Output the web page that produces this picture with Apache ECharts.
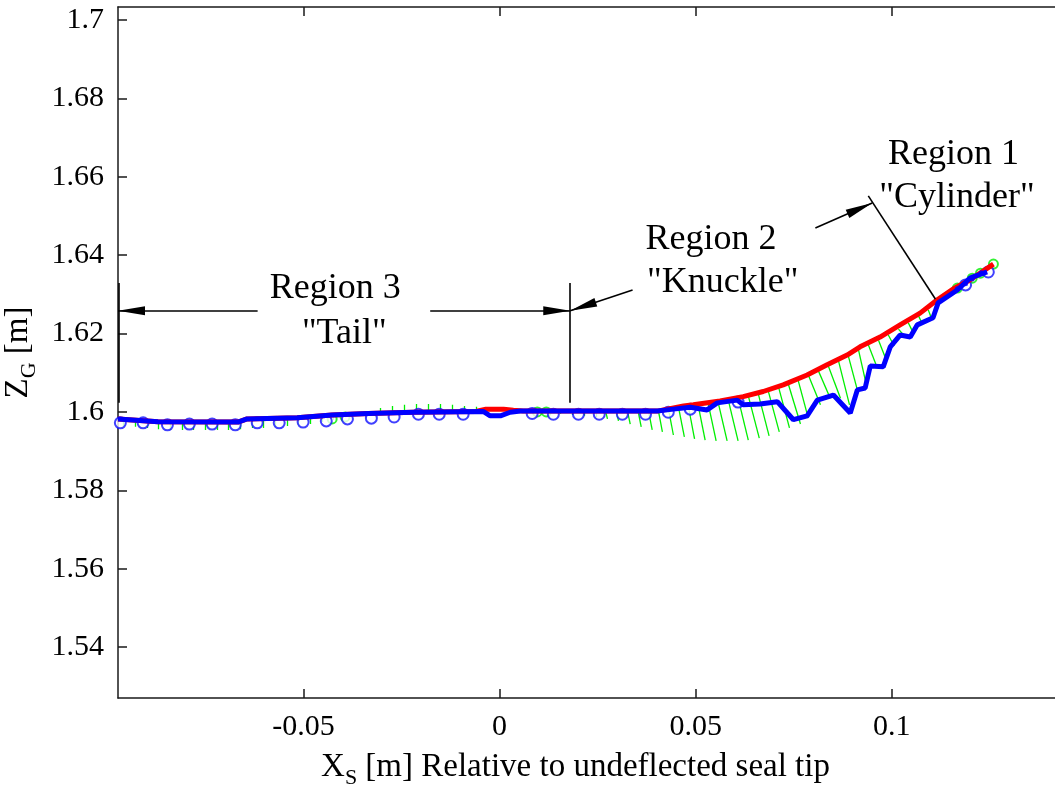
<!DOCTYPE html>
<html>
<head>
<meta charset="utf-8">
<script src="https://cdn.jsdelivr.net/npm/echarts@6.0.0/dist/echarts.min.js"></script>
<style>
  html, body { margin: 0; padding: 0; background: #fff; }
  #chart { width: 1055px; height: 786px; }
</style>
</head>
<body>
<div id="chart"></div>
<script>
// Axis ranges (m)
const X_MIN = -0.0973, X_MAX = 0.1416;
const Y_MIN = 1.5270, Y_MAX = 1.7033;

// Tick values and their labels
const xTickValues = [-0.05, 0, 0.05, 0.1];
const xTickLabels = ['-0.05', '0', '0.05', '0.1'];
const yTickValues = [1.54, 1.56, 1.58, 1.60, 1.62, 1.64, 1.66, 1.68, 1.70];
const yTickLabels = ['1.54', '1.56', '1.58', '1.6', '1.62', '1.64', '1.66', '1.68', '1.7'];

// Undeflected seal profile (red)
const redX = [-0.0973, -0.0871, -0.0667, -0.0644, -0.0516, -0.0427, -0.0335, -0.0220, -0.0060, -0.0035,
  0.0010, 0.0035, 0.0060, 0.0402, 0.0469, 0.0494, 0.0562, 0.0621, 0.0672, 0.0723, 0.0784, 0.0835,
  0.0886, 0.0919, 0.0970, 0.1021, 0.1072, 0.1116, 0.1157, 0.1200, 0.1259];
const redY = [1.5982, 1.5975, 1.5974, 1.5982, 1.5985, 1.5992, 1.5996, 1.5999, 1.6001, 1.6007,
  1.6007, 1.6004, 1.6002, 1.6002, 1.6015, 1.6018, 1.6028, 1.6039, 1.6052, 1.6069, 1.6094, 1.6120,
  1.6145, 1.6166, 1.6191, 1.6222, 1.6252, 1.6286, 1.6314, 1.6337, 1.6377];

// Deflected seal profile (blue)
const blueX = [-0.0973, -0.0871, -0.0667, -0.0644, -0.0516, -0.0427, -0.0335, -0.0220, -0.0042, -0.0024,
  0.0002, 0.0027, 0.0053, 0.0402, 0.0443, 0.0486, 0.0529, 0.0555, 0.0606, 0.0621, 0.0664, 0.0708,
  0.0749, 0.0784, 0.0810, 0.0851, 0.0894, 0.0912, 0.0932, 0.0945, 0.0978, 0.0996, 0.1021, 0.1047,
  0.1065, 0.1105, 0.1118, 0.1167, 0.1200, 0.1243];
const blueY = [1.5982, 1.5975, 1.5974, 1.5982, 1.5985, 1.5992, 1.5996, 1.5999, 1.6001, 1.5990,
  1.5990, 1.5999, 1.6002, 1.6002, 1.6007, 1.6012, 1.6005, 1.6023, 1.6030, 1.6018, 1.6020, 1.6026,
  1.5980, 1.5990, 1.6030, 1.6043, 1.5997, 1.6056, 1.6061, 1.6117, 1.6115, 1.6166, 1.6196, 1.6191,
  1.6222, 1.6240, 1.6278, 1.6311, 1.6342, 1.6357];

// Deflected node markers (open blue circles)
const blueNodeX = [-0.0967, -0.0909, -0.0847, -0.0791, -0.0733, -0.0674, -0.0618, -0.0562, -0.0501, -0.0442,
  -0.0388, -0.0327, -0.0269, -0.0207, -0.0154, -0.0093, 0.0083, 0.0137, 0.0201, 0.0254, 0.0313,
  0.0372, 0.0430, 0.0486, 0.0608, 0.1188, 0.1246];
const blueNodeY = [1.5972, 1.5972, 1.5967, 1.5969, 1.5969, 1.5967, 1.5972, 1.5972, 1.5974, 1.5977,
  1.5982, 1.5984, 1.5987, 1.5994, 1.5994, 1.5994, 1.5996, 1.5994, 1.5994, 1.5994, 1.5994,
  1.5994, 1.5999, 1.6007, 1.6025, 1.6324, 1.6357];

// Small filled blue points near the tip
const blueDotX = [0.1167, 0.1188, 0.1205, 0.1228];
const blueDotY = [1.6314, 1.6327, 1.6339, 1.6355];

// Open green circles
const greenNodeX = [-0.0427, -0.0394, 0.0096, 0.0119, 0.1167, 0.1205, 0.1226, 0.1259];
const greenNodeY = [1.5982, 1.5987, 1.6000, 1.6000, 1.6316, 1.6341, 1.6354, 1.6377];

// Green vectors: start (x0, y0) and end (x1, y1)
const gx0 = [
  -0.0960, -0.0929, -0.0898, -0.0870, -0.0840, -0.0809, -0.0781, -0.0751, -0.0720, -0.0692, -0.0661,
  -0.0631, -0.0603, -0.0572, -0.0541, -0.0513, -0.0483, -0.0452, -0.0424, -0.0394, -0.0363,
  -0.0304, -0.0274, -0.0243, -0.0212, -0.0182, -0.0151, -0.0121, -0.0090, -0.0059, -0.0029,
  0.0063, 0.0094, 0.0124, 0.0155, 0.0185, 0.0216, 0.0247,
  0.0270, 0.0298, 0.0326, 0.0353, 0.0379, 0.0404, 0.0430, 0.0456, 0.0481, 0.0506, 0.0532, 0.0557,
  0.0583, 0.0608, 0.0634, 0.0659, 0.0685, 0.0711, 0.0736, 0.0761,
  0.0787, 0.0813, 0.0838, 0.0864, 0.0889, 0.0915, 0.0940, 0.0966, 0.0991, 0.1017, 0.1042, 0.1068, 0.1093];
const gy0 = [
  1.5982, 1.5979, 1.5979, 1.5977, 1.5977, 1.5977, 1.5977, 1.5977, 1.5977, 1.5977, 1.5977,
  1.5982, 1.5982, 1.5982, 1.5984, 1.5984, 1.5987, 1.5990, 1.5992, 1.5995, 1.5997,
  1.5997, 1.5997, 1.5997, 1.5997, 1.5997, 1.5997, 1.5997, 1.5997, 1.6002, 1.6002,
  1.6002, 1.6002, 1.6002, 1.6002, 1.6002, 1.6002, 1.6002,
  1.6002, 1.6002, 1.6002, 1.6002, 1.6005, 1.6007, 1.6010, 1.6012, 1.6015, 1.6018, 1.6020, 1.6025,
  1.6030, 1.6035, 1.6041, 1.6048, 1.6053, 1.6064, 1.6071, 1.6081,
  1.6094, 1.6104, 1.6117, 1.6130, 1.6143, 1.6158, 1.6171, 1.6183, 1.6196, 1.6211, 1.6227, 1.6245, 1.6260];
const gx1 = [
  -0.0960, -0.0929, -0.0898, -0.0870, -0.0840, -0.0809, -0.0781, -0.0751, -0.0720, -0.0692, -0.0661,
  -0.0631, -0.0603, -0.0572, -0.0541, -0.0513, -0.0483, -0.0452, -0.0424, -0.0394, -0.0363,
  -0.0304, -0.0274, -0.0243, -0.0212, -0.0182, -0.0151, -0.0121, -0.0090, -0.0059, -0.0029,
  0.0063, 0.0094, 0.0124, 0.0155, 0.0185, 0.0216, 0.0247,
  0.0275, 0.0303, 0.0333, 0.0361, 0.0389, 0.0415, 0.0443, 0.0471, 0.0497, 0.0524, 0.0552, 0.0580,
  0.0608, 0.0634, 0.0662, 0.0687, 0.0713, 0.0739, 0.0767, 0.0787,
  0.0818, 0.0843, 0.0869, 0.0892, 0.0912, 0.0935, 0.0961, 0.0986, 0.1006, 0.1032, 0.1055, 0.1078, 0.1101];
const gy1 = [
  1.5964, 1.5962, 1.5959, 1.5956, 1.5954, 1.5954, 1.5954, 1.5954, 1.5954, 1.5954, 1.5956,
  1.5959, 1.5959, 1.5962, 1.5964, 1.5967, 1.5969, 1.5974, 1.5979, 1.5984, 1.5992,
  1.6010, 1.6015, 1.6018, 1.6020, 1.6020, 1.6020, 1.6018, 1.6015, 1.6013, 1.6007,
  1.5997, 1.5997, 1.5995, 1.5995, 1.5992, 1.5990, 1.5987,
  1.5982, 1.5977, 1.5969, 1.5962, 1.5954, 1.5949, 1.5941, 1.5936, 1.5931, 1.5928, 1.5926, 1.5926,
  1.5926, 1.5928, 1.5933, 1.5939, 1.5949, 1.5959, 1.5969, 1.5984,
  1.6018, 1.6035, 1.6035, 1.6018, 1.6056, 1.6069, 1.6117, 1.6132, 1.6168, 1.6194, 1.6201, 1.6224, 1.6239];

// Region annotations: leader lines and text
const annStart = [[-0.0617, 1.6258], [-0.0177, 1.6258], [0.0180, 1.6329], [0.0339, 1.6311],
  [0.0805, 1.6469], [0.0940, 1.6551], [-0.0972, 1.6329]];
const annEnd = [[-0.0973, 1.6258], [0.0180, 1.6258], [0.0180, 1.6023], [0.0180, 1.6258],
  [0.0950, 1.6533], [0.1111, 1.6288], [-0.0972, 1.6023]];
const annArrow = [true, true, false, true, true, false, false];
const annText = ['Region 3', '"Tail"', 'Region 2', '"Knuckle"', 'Region 1', '"Cylinder"'];
const annTextX = [-0.0419, -0.0396, 0.0539, 0.0569, 0.1157, 0.1166];
const annTextY = [1.6314, 1.6201, 1.6439, 1.6329, 1.6656, 1.6548];

const FONT = '"Liberation Serif", "Times New Roman", serif';
const ARROW = 'path://M0,-27L0,-27M0,0L4.5,27L-4.5,27Z';
const zip = (xs, ys) => xs.map((x, i) => [x, ys[i]]);
const tickLabel = (vals, labels) => v => {
  const i = vals.findIndex(t => Math.abs(t - v) < 1e-9);
  return i >= 0 ? labels[i] : '';
};
const axisLineStyle = { color: '#1a1a1a', width: 1.5 };
const nameRich = {
  a: { fontSize: 33, fontFamily: FONT, color: '#000', lineHeight: 38 },
  b: { fontSize: 22, fontFamily: FONT, color: '#000', lineHeight: 44, verticalAlign: 'bottom' }
};

const chart = echarts.init(document.getElementById('chart'), null, { renderer: 'canvas' });

chart.setOption({
  animation: false,
  backgroundColor: '#fff',
  grid: { left: 118, right: 0, top: 7, bottom: 88, containLabel: false, outerBoundsMode: 'none' },
  xAxis: [{
    type: 'value', min: X_MIN, max: X_MAX, position: 'bottom',
    axisLine: { show: true, onZero: false, lineStyle: axisLineStyle },
    axisTick: { show: true, inside: true, length: 9, customValues: xTickValues, lineStyle: axisLineStyle },
    axisLabel: { show: true, customValues: xTickValues, formatter: tickLabel(xTickValues, xTickLabels),
      margin: 14, fontSize: 30, fontFamily: FONT, color: '#000' },
    splitLine: { show: false },
    name: '{a|X}{b|S}{a| [m] Relative to undeflected seal tip}',
    nameLocation: 'middle', nameGap: 47,
    nameTextStyle: { fontFamily: FONT, color: '#000', padding: [0, 22, 0, 0], rich: nameRich }
  }, {
    type: 'value', min: X_MIN, max: X_MAX, position: 'top',
    axisLine: { show: true, onZero: false, lineStyle: axisLineStyle },
    axisTick: { show: true, inside: true, length: 9, customValues: xTickValues, lineStyle: axisLineStyle },
    axisLabel: { show: false },
    splitLine: { show: false }
  }],
  yAxis: [{
    type: 'value', min: Y_MIN, max: Y_MAX, position: 'left',
    axisLine: { show: true, onZero: false, lineStyle: axisLineStyle },
    axisTick: { show: true, inside: true, length: 9, customValues: yTickValues, lineStyle: axisLineStyle },
    axisLabel: { show: true, customValues: yTickValues, formatter: tickLabel(yTickValues, yTickLabels),
      margin: 14, fontSize: 30, fontFamily: FONT, color: '#000' },
    splitLine: { show: false },
    name: '{a|Z}{b|G}{a| [m]}',
    nameLocation: 'middle', nameGap: 47, nameRotate: 90,
    nameTextStyle: { fontFamily: FONT, color: '#000', rich: nameRich }
  }],
  series: [
    {
      name: 'vectors', type: 'lines', coordinateSystem: 'cartesian2d',
      xAxisIndex: 0, yAxisIndex: 0, z: 1, silent: true,
      lineStyle: { color: '#00ee00', width: 1.3, opacity: 1, curveness: 0 },
      data: gx0.map((x, i) => ({ coords: [[x, gy0[i]], [gx1[i], gy1[i]]] }))
    },
    {
      name: 'green nodes', type: 'scatter', z: 2, silent: true,
      symbol: 'emptyCircle', symbolSize: 9,
      itemStyle: { color: '#00ee00', borderColor: '#00ee00', borderWidth: 1.3 },
      data: zip(greenNodeX, greenNodeY)
    },
    {
      name: 'blue nodes', type: 'scatter', z: 3, silent: true,
      symbol: 'emptyCircle', symbolSize: 11,
      itemStyle: { color: '#1010ff', borderColor: '#1010ff', borderWidth: 1.3 },
      data: zip(blueNodeX, blueNodeY)
    },
    {
      name: 'undeflected', type: 'line', z: 4, silent: true,
      showSymbol: false, symbol: 'none',
      lineStyle: { color: '#ff0000', width: 5 },
      data: zip(redX, redY)
    },
    {
      name: 'deflected', type: 'line', z: 5, silent: true,
      showSymbol: false, symbol: 'none',
      lineStyle: { color: '#0000ff', width: 5 },
      data: zip(blueX, blueY)
    },
    {
      name: 'tip points', type: 'scatter', z: 6, silent: true,
      symbol: 'circle', symbolSize: 5,
      itemStyle: { color: '#0000ff' },
      data: zip(blueDotX, blueDotY)
    },
    {
      name: 'regions', type: 'line', z: 7, silent: true, data: [],
      markLine: {
        silent: true, animation: false,
        label: { show: false },
        lineStyle: { color: '#000', width: 1.6, type: 'solid' },
        emphasis: { disabled: true },
        data: annStart.map((s, i) => [
          { coord: s, symbol: 'none' },
          { coord: annEnd[i], symbol: annArrow[i] ? ARROW : 'none', symbolSize: [9, 54] }
        ])
      },
      markPoint: {
        silent: true, animation: false,
        symbol: 'rect', symbolSize: 1,
        itemStyle: { color: 'rgba(0,0,0,0)' },
        label: { show: true, position: 'inside', formatter: '{b}',
          fontFamily: FONT, fontSize: 36, color: '#000' },
        data: annText.map((t, i) => ({ name: t, coord: [annTextX[i], annTextY[i]] }))
      }
    }
  ]
});
</script>
</body>
</html>
